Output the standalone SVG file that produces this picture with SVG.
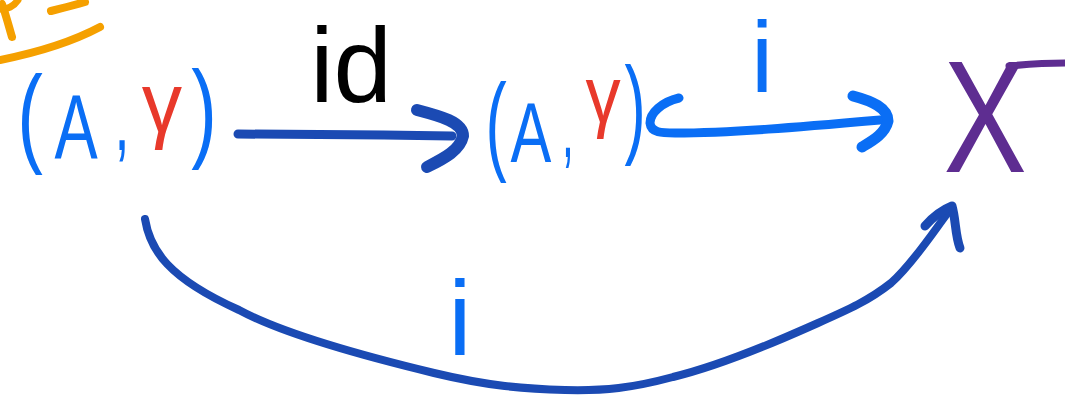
<svg xmlns="http://www.w3.org/2000/svg" width="1065" height="398" viewBox="0 0 1065 398">
<style>
  .t { font-family: "Liberation Sans", Arial, sans-serif; text-anchor: middle; }
  .blue { fill: #0a6ef5; }
  .red { fill: #e8392b; }
  .stroke { fill: none; stroke-linecap: round; stroke-linejoin: round; }
  .dark { stroke: #1b4ab3; }
  .bright { stroke: #0a6ef5; }
  .orange { stroke: #f5a000; }
</style>
<rect width="1065" height="398" fill="#ffffff"/>

<g id="fragment">
  <path class="stroke orange" d="M2,4 C6,15 9,27 12,37" stroke-width="8"/>
  <path class="stroke orange" d="M0,9 C7,10 14,6 18,0" stroke-width="7"/>
  <path class="stroke orange" d="M51,11 C63,8 75,5 85,2" stroke-width="8"/>
  <path class="stroke orange" d="M0,60 C30,54 68,44 100,27" stroke-width="8"/>
</g>

<g id="node-A1">
  <text class="t blue" font-size="110" transform="translate(30,152) scale(0.7,1)">(</text>
  <text class="t blue" font-size="90" transform="translate(76,158) scale(0.72,1)">A</text>
  <text class="t blue" font-size="90" transform="translate(122,150) scale(0.6,1)">,</text>
  <text class="t red" font-size="85" transform="translate(162,132) scale(0.95,1)">γ</text>
  <text class="t blue" font-size="110" transform="translate(204,147) scale(0.7,1)">)</text>
</g>

<g id="node-A2">
  <text class="t blue" font-size="110" transform="translate(496,160) scale(0.58,1)">(</text>
  <text class="t blue" font-size="85" transform="translate(531,162) scale(0.72,1)">A</text>
  <text class="t blue" font-size="85" transform="translate(568,157) scale(0.5,1)">,</text>
  <text class="t red" font-size="80" transform="translate(603,122) scale(0.88,1)">γ</text>
  <text class="t blue" font-size="110" transform="translate(635,143) scale(0.58,1)">)</text>
</g>

<g id="node-X">
  <text class="t" font-size="160" fill="#5e2d91" transform="translate(985,172) scale(0.78,1)">X</text>
  <path class="stroke" d="M1009,66 C1030,64 1048,63 1065,63" stroke="#5e2d91" stroke-width="7"/>
</g>

<g id="connectors">
  <path class="stroke dark" d="M238,134 C300,134 380,135 452,136" stroke-width="9"/>
  <path class="stroke dark" d="M417,110 C440,116 463,122 463,136 C460,150 445,158 427,167" stroke-width="12"/>

  <path class="stroke bright" d="M679,98 C662,102 650,113 650,123 C651,133 662,133 675,133 C730,133 800,127 880,120" stroke-width="9"/>
  <path class="stroke bright" d="M853,96 C872,101 888,108 888,121 C885,134 872,141 862,147" stroke-width="11"/>

  <path class="stroke dark" d="M145,219 C150,250 168,278 239,310 C287,336 380,360 434,373 C488,386 525,389 565,390 C605,391 632,388 673,377 C714,367 773,343 809,327 C845,311 867,302 891,283 C914,263 940,222 950,210" stroke-width="8"/>
  <path class="stroke dark" d="M925,226 C932,218 942,210 952,206 C956,220 955,235 960,248" stroke-width="9"/>
</g>

<g id="labels">
  <text class="t" x="351" y="102" font-size="105" fill="#000000">id</text>
  <text class="t blue" x="762" y="92" font-size="100">i</text>
  <text class="t blue" x="460" y="355" font-size="105">i</text>
</g>
</svg>
